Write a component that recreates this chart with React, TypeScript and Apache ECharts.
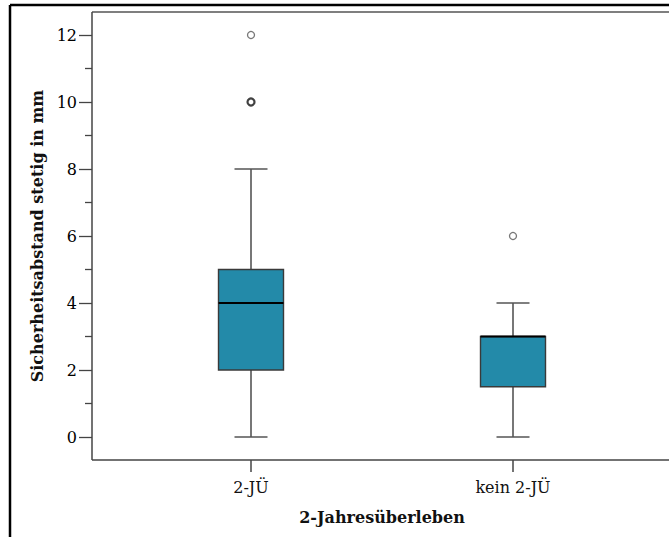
import React, { useEffect, useRef } from "react";
import * as echarts from "echarts";

const categories = ["2-JÜ", "kein 2-JÜ"];
// [min, Q1, median, Q3, max]
const boxStats = [
  [0, 2, 4, 5, 8],
  [0, 1.5, 3, 3, 4],
];
// outliers: [categoryIndex, value, count]
const outliers = [
  [0, 12, 1],
  [0, 10, 2],
  [1, 6, 1],
];
const yTicks = [0, 2, 4, 6, 8, 10, 12];

const FONT = "DejaVu Serif";

export default function App() {
  const ref = useRef<HTMLDivElement>(null);
  useEffect(() => {
    if (!ref.current) return;
    const chart = echarts.init(ref.current, undefined, { renderer: "svg" });
    const boxData = boxStats.map((s, i) => [i, ...s]);
    chart.setOption({
      animation: false,
      backgroundColor: "#ffffff",
      grid: [
        { left: 120, width: 524, top: 35, height: 402 },
        { left: 120, width: 524, top: 12, height: 448 },
      ],
      xAxis: [
        {
          type: "category",
          gridIndex: 0,
          data: categories,
          boundaryGap: true,
          axisLine: { show: false },
          axisTick: { show: false },
          axisLabel: { show: false },
          splitLine: { show: false },
        },
        {
          type: "category",
          gridIndex: 1,
          data: categories,
          boundaryGap: true,
          axisLine: { show: false },
          axisTick: { show: true, alignWithLabel: true, length: 12, lineStyle: { color: "#444", width: 1.5 } },
          axisLabel: { color: "#111", fontFamily: FONT, fontSize: 16, margin: 19 },
          name: "2-Jahresüberleben",
          nameLocation: "middle",
          nameGap: 49,
          nameTextStyle: { color: "#111", fontFamily: FONT, fontSize: 16, fontWeight: "bold" },
          splitLine: { show: false },
        },
      ],
      yAxis: [
        {
          type: "value",
          gridIndex: 0,
          min: yTicks[0],
          max: yTicks[yTicks.length - 1],
          interval: 2,
          offset: 28,
          axisLine: { show: false },
          axisTick: { show: true, length: 13, lineStyle: { color: "#444", width: 1.3 } },
          minorTick: { show: true, splitNumber: 2, length: 7, lineStyle: { color: "#444", width: 1.3 } },
          axisLabel: { color: "#000", fontFamily: FONT, fontSize: 16, margin: 15 },
          splitLine: { show: false },
          name: "Sicherheitsabstand stetig in mm",
          nameLocation: "middle",
          nameGap: 46,
          nameTextStyle: { color: "#111", fontFamily: FONT, fontSize: 16, fontWeight: "bold" },
        },
        {
          type: "value",
          gridIndex: 1,
          min: 0,
          max: 1,
          show: false,
        },
      ],
      graphic: [
        { type: "line", shape: { x1: 10, y1: 5, x2: 669, y2: 5 }, style: { stroke: "#000", lineWidth: 2.5 } },
        { type: "line", shape: { x1: 10, y1: 5, x2: 10, y2: 537 }, style: { stroke: "#000", lineWidth: 2.5 } },
        { type: "line", shape: { x1: 92, y1: 12, x2: 669, y2: 12 }, style: { stroke: "#555", lineWidth: 1.5 } },
        { type: "line", shape: { x1: 92, y1: 12, x2: 92, y2: 460 }, style: { stroke: "#444", lineWidth: 1.5 } },
        { type: "line", shape: { x1: 92, y1: 460, x2: 669, y2: 460 }, style: { stroke: "#444", lineWidth: 1.5 } },
      ],
      series: [
        {
          type: "custom",
          xAxisIndex: 0,
          yAxisIndex: 0,
          data: boxData,
          encode: { x: 0, y: [1, 2, 3, 4, 5] },
          renderItem: (params: any, api: any) => {
            const c = api.value(0);
            const pMin = api.coord([c, api.value(1)]);
            const pQ1 = api.coord([c, api.value(2)]);
            const pMed = api.coord([c, api.value(3)]);
            const pQ3 = api.coord([c, api.value(4)]);
            const pMax = api.coord([c, api.value(5)]);
            const x = pMin[0];
            const bw = 65;
            const cw = 33;
            const wStyle = { stroke: "#555", lineWidth: 1.6 };
            return {
              type: "group",
              children: [
                { type: "line", shape: { x1: x, y1: pQ1[1], x2: x, y2: pMin[1] }, style: wStyle },
                { type: "line", shape: { x1: x, y1: pQ3[1], x2: x, y2: pMax[1] }, style: wStyle },
                { type: "line", shape: { x1: x - cw / 2, y1: pMin[1], x2: x + cw / 2, y2: pMin[1] }, style: wStyle },
                { type: "line", shape: { x1: x - cw / 2, y1: pMax[1], x2: x + cw / 2, y2: pMax[1] }, style: wStyle },
                {
                  type: "rect",
                  shape: { x: x - bw / 2, y: pQ3[1], width: bw, height: pQ1[1] - pQ3[1] },
                  style: { fill: "#238aa9", stroke: "#3a3a3a", lineWidth: 1.4 },
                },
                {
                  type: "line",
                  shape: { x1: x - bw / 2, y1: pMed[1], x2: x + bw / 2, y2: pMed[1] },
                  style: { stroke: "#000", lineWidth: 2.2 },
                },
              ],
            };
          },
          z: 2,
        },
        {
          type: "scatter",
          xAxisIndex: 0,
          yAxisIndex: 0,
          data: outliers.map((o) => ({
            value: [o[0], o[1]],
            itemStyle:
              o[2] > 1
                ? { color: "#fff", borderColor: "#111", borderWidth: 2.2 }
                : { color: "#fff", borderColor: "#555", borderWidth: 1.3 },
          })),
          symbol: "circle",
          symbolSize: 7,
          z: 3,
        },
      ],
    });
    return () => chart.dispose();
  }, []);
  return (
    <div
      ref={ref}
      style={{ position: "fixed", left: 0, top: 0, width: 669, height: 537, background: "#fff" }}
    />
  );
}
